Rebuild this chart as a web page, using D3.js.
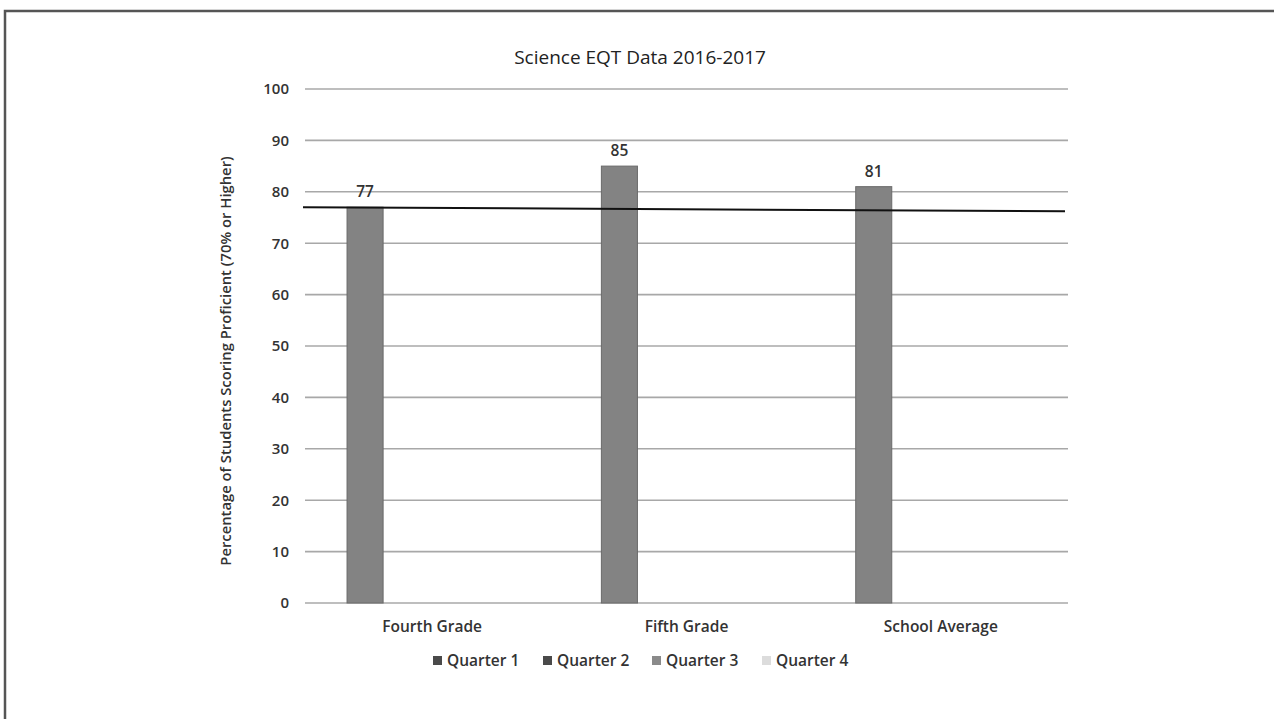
<!DOCTYPE html>
<html><head><meta charset="utf-8">
<script src="https://cdn.jsdelivr.net/npm/d3@7"></script>
<style>
body{margin:0;background:#fff;}
svg{display:block;font-family:"Open Sans",Lato,sans-serif;}
</style></head>
<body><svg id="c" width="1274" height="719"></svg>
<script>
const title = "Science EQT Data 2016-2017";
const yTitle = "Percentage of Students Scoring Proficient (70% or Higher)";
const categories = ["Fourth Grade", "Fifth Grade", "School Average"];
const seriesNames = ["Quarter 1", "Quarter 2", "Quarter 3", "Quarter 4"];
const quarter1 = [77, 85, 81];
const quarter2 = [null, null, null];
const quarter3 = [null, null, null];
const quarter4 = [null, null, null];
const yTicks = [0, 10, 20, 30, 40, 50, 60, 70, 80, 90, 100];
const benchmark = [77, 76.2];
const seriesColors = ["#4a4a4a", "#4a4a4a", "#8a8a8a", "#dcdcdc"];
const barColor = "#838383";

const svg = d3.select("#c");
const W = 1274, H = 719;
const m = {left: 305, right: 1068, top: 89, bottom: 603};
const FONT = "'Open Sans',sans-serif";

// frame
svg.append("path").attr("d", `M5,${H} L5,11 L${W},11`).attr("fill","none")
  .attr("stroke","#555").attr("stroke-width",2.5);

const x0 = d3.scaleBand().domain(categories).range([m.left, m.right]).padding(0);
const x1 = d3.scaleBand().domain(seriesNames).range([0, x0.bandwidth()])
  .paddingInner(0.194).paddingOuter(0.94);
const y = d3.scaleLinear().domain([0, 100]).range([m.bottom, m.top]);

// gridlines
svg.append("g").selectAll("line").data(yTicks).join("line")
  .attr("x1", m.left).attr("x2", m.right)
  .attr("y1", d => y(d)).attr("y2", d => y(d))
  .attr("stroke", "#a8a8a8").attr("stroke-width", 1.6);

// y axis labels
const yAxis = d3.axisLeft(y).tickValues(yTicks).tickSize(0).tickPadding(0);
const gy = svg.append("g").attr("transform", `translate(${m.left-16},0)`).call(yAxis);
gy.select(".domain").remove();
gy.selectAll("text").attr("font-size", 15).attr("font-weight", 600).attr("fill", "#333").attr("font-family", FONT);

// x axis labels
const xAxis = d3.axisBottom(x0).tickSize(0).tickPadding(0);
const gx = svg.append("g").attr("transform", `translate(0,${m.bottom+18})`).call(xAxis);
gx.select(".domain").remove();
gx.selectAll("text").attr("font-size", 15.5).attr("font-weight", 600).attr("fill", "#333").attr("font-family", FONT);

// bars
const seriesData = [quarter1, quarter2, quarter3, quarter4];
const barsG = svg.append("g");
seriesData.forEach((vals, si) => {
  vals.forEach((v, ci) => {
    if (v == null) return;
    const bx = x0(categories[ci]) + x1(seriesNames[si]);
    barsG.append("rect")
      .attr("x", bx).attr("y", y(v)).attr("width", x1.bandwidth()).attr("height", y(0) - y(v))
      .attr("fill", barColor).attr("stroke", "#6a6a6a").attr("stroke-width", 1);
    barsG.append("text").attr("x", bx + x1.bandwidth()/2).attr("y", y(v) - 10)
      .attr("text-anchor", "middle").attr("font-size", 15.5).attr("font-weight", 600)
      .attr("fill", "#333").text(v);
  });
});

// benchmark line
const xl = d3.scaleLinear().domain([0, benchmark.length - 1]).range([m.left - 2, m.right - 3]);
svg.append("path").datum(benchmark)
  .attr("d", d3.line().x((d, i) => xl(i)).y(d => y(d)))
  .attr("fill", "none").attr("stroke", "#111").attr("stroke-width", 2);

// title
svg.append("text").attr("x", 640).attr("y", 64).attr("text-anchor", "middle")
  .attr("font-size", 19).attr("font-weight", 400).attr("fill", "#222").text(title);

// y title
svg.append("text").attr("transform", `translate(231,${(m.top+m.bottom)/2 + 15}) rotate(-90)`)
  .attr("text-anchor", "middle").attr("font-size", 14.8).attr("font-weight", 600)
  .attr("fill", "#333").text(yTitle);

// legend
const legendX = [433, 543, 652, 762];
const lg = svg.append("g");
seriesNames.forEach((s, i) => {
  lg.append("rect").attr("x", legendX[i]).attr("y", 656).attr("width", 9).attr("height", 9)
    .attr("fill", seriesColors[i]);
  lg.append("text").attr("x", legendX[i] + 14).attr("y", 666).attr("font-size", 15.5)
    .attr("font-weight", 600).attr("fill", "#333").text(s);
});
</script></body></html>
